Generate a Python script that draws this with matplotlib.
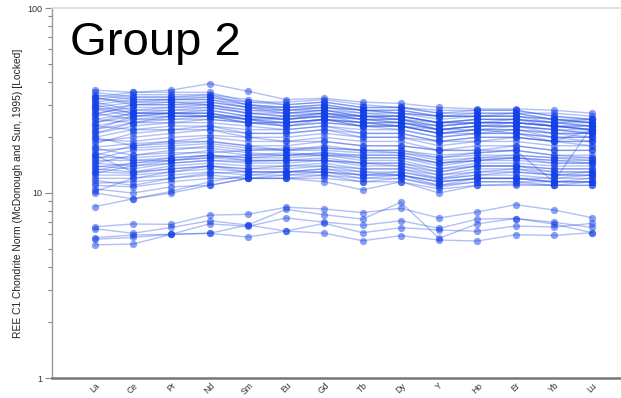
import matplotlib
matplotlib.use("Agg")
import matplotlib.pyplot as plt
from matplotlib.ticker import LogLocator, NullFormatter, FixedLocator, FixedFormatter

plt.rcParams['font.family'] = ['Liberation Sans', 'DejaVu Sans']

elements = ["La", "Ce", "Pr", "Nd", "Sm", "Eu", "Gd", "Tb", "Dy", "Y", "Ho", "Er", "Yb", "Lu"]

# Chondrite-normalised REE profiles, one list per sample (La ... Lu)
upper_band = [
    [36, 35, 36, 39, 35.5, 32, 32.5, 31, 30.5, 29, 28.5, 28.5, 28, 27],
    [33, 35, 35, 35, 31, 30, 31, 29, 29, 27, 28, 28, 26, 25],
    [32, 34, 34, 34, 30, 29, 30, 28, 28, 26, 27, 27, 25, 24],
    [31, 33, 33, 33, 31, 31, 32, 30, 29, 28, 28, 28, 26, 25],
    [30, 32, 32, 33, 30, 28, 29, 27, 27, 25, 26, 26, 25, 24],
    [29, 31, 31, 31, 29, 27, 28, 27, 26, 24, 25, 25, 24, 23],
    [28, 30, 31, 30, 28, 28, 29, 28, 27, 26, 26, 27, 25, 25],
    [27, 29, 29, 30, 27, 26, 27, 26, 25, 23, 24, 24, 23, 22],
    [26, 28, 29, 29, 27, 26, 26, 24, 24, 22, 23, 23, 22, 21],
    [25, 27, 28, 28, 26, 25, 27, 25, 25, 23, 24, 25, 23, 23],
    [24, 26, 27, 27, 25, 24, 25, 23, 23, 21, 22, 22, 21, 20],
    [23, 25, 26, 26, 26, 25, 26, 25, 24, 23, 24, 24, 23, 22],
    [22, 24, 25, 25, 24, 23, 24, 23, 22, 20, 21, 21, 20, 19],
    [21, 23, 24, 24, 23, 22, 23, 22, 22, 20, 21, 22, 20, 20],
    [20, 22, 23, 23, 22, 22, 23, 21, 21, 19, 20, 20, 19, 18],
    [33, 30, 30, 31, 29, 29, 30, 28, 28, 26, 26, 26, 25, 24],
    [31, 28, 28, 29, 27, 27, 28, 26, 26, 24, 25, 25, 24, 24],
    [29, 27, 27, 28, 26, 25, 26, 25, 24, 22, 23, 24, 23, 22],
    [27, 25, 25, 26, 24, 23, 24, 23, 23, 21, 22, 22, 21, 21],
    [25, 24, 24, 25, 24, 24, 25, 24, 24, 22, 23, 23, 22, 22],
    [23, 22, 22, 23, 21, 21, 22, 21, 21, 19, 20, 20, 19, 19],
    [35, 33, 33, 34, 32, 30, 31, 29, 29, 27, 27, 27, 27, 26],
    [34, 32, 32, 32, 30, 29, 29, 28, 27, 26, 26, 26, 24, 25],
    [22, 26, 27, 27, 25, 23, 25, 24, 23, 22, 22, 23, 21, 21],
    [21, 24, 26, 26, 24, 24, 25, 24, 23, 21, 21, 21, 20, 20],
    [19, 20, 21, 22, 21, 21, 22, 20, 20, 19, 19, 20, 19, 19],
    [18.5, 21, 22, 22, 20, 19, 20, 19, 19, 17, 18, 18, 17, 17],
    [28.5, 26, 26, 26, 25, 26, 27, 26, 26, 24, 25, 25, 24, 23],
    [24, 27, 27, 26, 25, 25, 26, 26, 25, 24, 24, 24, 23, 23],
    [19.5, 19, 20, 20.5, 20, 20, 21, 20, 20, 18, 19, 19, 18, 18],
    [26.5, 30, 30, 30, 28, 27, 27, 25, 25, 22, 23, 23, 22, 21],
    [32.5, 31, 32, 32, 29, 28, 28, 26, 26, 24, 24, 24, 23, 22],
    [30, 27, 27, 27, 25, 24, 25, 23, 23, 21, 22, 21, 19, 22],
    [20, 18, 19, 20, 19, 19, 19, 18, 18, 17, 17, 17, 11.5, 23],
]

middle_band = [
    [17.7, 18.5, 19, 19, 18, 18, 19, 18, 18, 17, 17, 18, 17, 17],
    [17, 17.5, 18, 18.5, 17.5, 17, 17.5, 17, 16.5, 15.5, 16, 16, 15.5, 15],
    [16, 18, 18.5, 19, 18, 17, 18, 17, 17, 16, 16.5, 17, 16, 16],
    [15.6, 15.5, 16, 17, 16, 16, 16.5, 15.5, 15.5, 14, 15, 15, 14.5, 14.5],
    [15, 15, 15.5, 16, 15.5, 15.5, 16, 15, 15, 13.5, 14.5, 14.5, 14, 14],
    [14.5, 14, 15, 15.5, 15, 15, 15.5, 14.5, 14.5, 13, 14, 14, 13.5, 13.5],
    [14, 13.5, 14.5, 15, 14.5, 14.5, 15, 14, 14, 12.5, 13.5, 13.5, 13, 13],
    [13.5, 13, 14, 14.5, 14, 14, 14.5, 13.5, 13.5, 12, 13, 13, 12.5, 12.5],
    [13, 12.8, 13.5, 14, 13.5, 13.5, 14, 13, 13, 11.8, 12.5, 12.5, 12, 12],
    [12.5, 12.5, 13, 13.5, 13, 13, 13.5, 12.5, 12.5, 11.5, 12, 12, 11.5, 11.5],
    [12, 12, 12.5, 13, 12.5, 12.5, 13, 12, 12, 11, 11.5, 11.5, 11, 11],
    [11.7, 11, 12, 12.5, 12, 12, 12.5, 11.5, 11.5, 10.5, 11, 11, 11, 11],
    [11, 10.8, 11.5, 12, 12, 12, 11.5, 10.4, 11.5, 10, 11, 11.2, 11, 11.5],
    [10.5, 10, 10.8, 11, 12, 12, 12, 11.5, 12, 10.8, 11.5, 11.5, 11.5, 12],
    [10, 9.3, 10, 11, 12, 12.5, 12.5, 12, 12.5, 11.5, 12, 12, 12, 12.5],
    [8.44, 9.3, 10.2, 11.5, 12.5, 13, 13, 12.5, 13, 12, 12.5, 13, 12.5, 13],
    [16.5, 15, 15, 15.5, 16, 16.5, 16, 16, 16, 14.5, 15, 15.5, 15, 15],
    [17.5, 16, 16.5, 16.5, 17, 17, 17, 16.5, 16.5, 15, 15.5, 16, 15.5, 15.5],
    [13.8, 14.5, 15, 16, 15.5, 16, 16, 15.5, 15.5, 14.5, 15.5, 15.5, 14.5, 14.5],
    [12.8, 14, 14.5, 15, 14.8, 15, 15, 14.5, 14, 13, 14, 14, 13, 13],
    [10.2, 12, 13, 14, 13.5, 14, 14, 13.5, 13.5, 12.5, 13, 13.5, 12.5, 12.5],
    [14.5, 16, 17, 18, 17, 17.5, 17.5, 17, 17, 15.5, 16.5, 17, 16, 15.5],
    [16, 13, 13.5, 14, 13, 13, 13.5, 13, 12.5, 11, 12, 12, 11.5, 11.5],
    [11.3, 11.5, 12, 12.8, 13, 13, 13, 12.5, 12.5, 11.5, 12, 12, 11.5, 11.5],
    [13.2, 14.5, 15.5, 16, 15, 15, 15, 14.5, 14.5, 13.5, 14, 14, 13.5, 13.5],
    [15.3, 17, 17.5, 17.5, 16.5, 16, 16.5, 16, 16, 14.5, 15, 15.5, 15, 14.5],
]

lower_band = [
    [6.57, 6.80, 6.77, 7.60, 7.67, 8.37, 8.20, 7.83, 8.27, 7.33, 7.89, 8.65, 8.09, 7.36],
    [6.41, 6.06, 6.51, 7.08, 6.71, 8.16, 7.63, 7.23, 8.91, 5.69, 6.82, 7.28, 6.95, 6.51],
    [5.73, 5.93, 5.98, 6.82, 6.60, 7.33, 6.95, 6.69, 7.08, 6.44, 7.23, 7.28, 6.80, 6.10],
    [5.62, 5.76, 5.98, 6.06, 6.71, 6.23, 6.85, 6.10, 6.49, 6.31, 6.21, 6.63, 6.55, 6.85],
    [5.24, 5.30, 5.98, 6.06, 5.78, 6.23, 6.06, 5.52, 5.88, 5.57, 5.50, 5.95, 5.90, 6.10],
]

samples = upper_band + middle_band + lower_band

W, H = 621, 398
fig = plt.figure(figsize=(W / 100, H / 100), dpi=100)
ax = fig.add_axes([52 / W, (H - 378) / H, (620 - 52) / W, (378 - 8) / H])

x = list(range(len(elements)))
for prof in samples:
    ax.plot(x, prof, color="#1f4be6", alpha=0.35, lw=1.0, zorder=2)
    ax.plot(x, prof, ls="none", marker="o", ms=5.2, mew=0,
            color="#1440e8", alpha=0.5, zorder=3)

ax.set_yscale("log")
ax.set_ylim(1, 100)
ax.set_xlim(-1.12, 13.73)

ax.yaxis.set_major_locator(FixedLocator([1, 10, 100]))
ax.yaxis.set_major_formatter(FixedFormatter(["1", "10", "100"]))
ax.yaxis.set_minor_locator(LogLocator(base=10, subs=range(2, 10)))
ax.yaxis.set_minor_formatter(NullFormatter())
ax.tick_params(axis="y", which="major", length=5, width=0.8, color="#888888",
               labelsize=6.5, labelcolor="#333333", pad=2)
ax.tick_params(axis="y", which="minor", length=3, width=0.8, color="#888888")

ax.set_xticks(x)
ax.set_xticklabels(elements, rotation=45, ha="center", va="top",
                   fontsize=6.2, color="#333333")
ax.tick_params(axis="x", length=0, pad=2)

ax.spines["right"].set_visible(False)
ax.spines["top"].set_color("#dddddd")
ax.spines["top"].set_linewidth(1.2)
ax.spines["left"].set_color("#999999")
ax.spines["left"].set_linewidth(1.0)
ax.spines["bottom"].set_color("#777777")
ax.spines["bottom"].set_linewidth(1.8)

ax.set_ylabel("REE C1 Chondrite Norm (McDonough and Sun, 1995) [Locked]",
              fontsize=7.4, color="#222222")
ax.yaxis.set_label_coords(-29 / (620 - 52), 0.5)

ax.text(0.032, 0.965, "Group 2", transform=ax.transAxes, fontsize=34,
        color="black", ha="left", va="top")

fig.savefig("out.png", dpi=100)
